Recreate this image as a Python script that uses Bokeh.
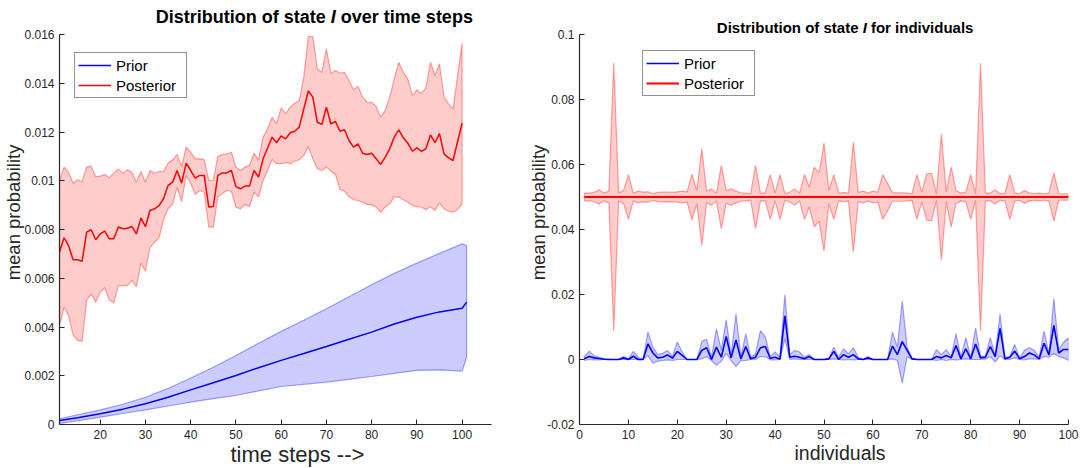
from bokeh.plotting import figure
from bokeh.layouts import row
from bokeh.models import (Range1d, FixedTicker, CustomJSTickFormatter, Label,
                          Legend, LegendItem, Title)
from bokeh.embed import file_html
from bokeh.resources import INLINE

# ---------------- data: left panel (time steps) ----------------
post_t_x = list(range(11, 101))
post_t_mean = [
    0.00707, 0.00766, 0.00734, 0.00676, 0.00676, 0.00670, 0.00789, 0.00799, 0.00758, 0.00782,
    0.00793, 0.00762, 0.00762, 0.00810, 0.00803, 0.00805, 0.00812, 0.00782, 0.00847, 0.00812,
    0.00878, 0.00885, 0.00898, 0.00926, 0.00981, 0.00994, 0.01042, 0.00990, 0.01072, 0.01042,
    0.01011, 0.01022, 0.01022, 0.00892, 0.00894, 0.01022, 0.01032, 0.01032, 0.01042, 0.00976,
    0.00967, 0.00978, 0.00978, 0.01042, 0.01015, 0.01090, 0.01134, 0.01179, 0.01156, 0.01184,
    0.01172, 0.01197, 0.01203, 0.01220, 0.01295, 0.01368, 0.01343, 0.01240, 0.01231, 0.01302,
    0.01233, 0.01243, 0.01203, 0.01209, 0.01165, 0.01138, 0.01151, 0.01113, 0.01108, 0.01113,
    0.01090, 0.01067, 0.01097, 0.01131, 0.01179, 0.01209, 0.01176, 0.01154, 0.01121, 0.01135,
    0.01121, 0.01131, 0.01188, 0.01156, 0.01193, 0.01110, 0.01094, 0.01083, 0.01160, 0.01236]
post_t_upper = [
    0.01001, 0.01056, 0.01035, 0.00990, 0.01004, 0.00997, 0.01056, 0.01060, 0.01017, 0.01019,
    0.01026, 0.01012, 0.01031, 0.01049, 0.01031, 0.01045, 0.01035, 0.00994, 0.01038, 0.00994,
    0.01042, 0.01031, 0.01038, 0.01038, 0.01072, 0.01086, 0.01108, 0.01058, 0.01138, 0.01117,
    0.01090, 0.01090, 0.01087, 0.01001, 0.01001, 0.01100, 0.01108, 0.01110, 0.01117, 0.01056,
    0.01042, 0.01056, 0.01063, 0.01113, 0.01086, 0.01179, 0.01213, 0.01261, 0.01233, 0.01299,
    0.01275, 0.01302, 0.01318, 0.01329, 0.01425, 0.01592, 0.01592, 0.01459, 0.01445, 0.01541,
    0.01439, 0.01452, 0.01441, 0.01445, 0.01411, 0.01373, 0.01387, 0.01343, 0.01322, 0.01322,
    0.01305, 0.01261, 0.01288, 0.01343, 0.01418, 0.01486, 0.01445, 0.01418, 0.01350, 0.01373,
    0.01357, 0.01381, 0.01486, 0.01432, 0.01480, 0.01343, 0.01316, 0.01295, 0.01430, 0.01565]
post_t_lower = [
    0.00406, 0.00481, 0.00447, 0.00368, 0.00345, 0.00342, 0.00509, 0.00536, 0.00502, 0.00543,
    0.00561, 0.00511, 0.00498, 0.00570, 0.00570, 0.00570, 0.00591, 0.00566, 0.00662, 0.00629,
    0.00727, 0.00748, 0.00766, 0.00840, 0.00885, 0.00905, 0.00974, 0.00915, 0.01022, 0.00990,
    0.00944, 0.00960, 0.00953, 0.00810, 0.00810, 0.00933, 0.00949, 0.00960, 0.00957, 0.00892,
    0.00885, 0.00903, 0.00894, 0.00953, 0.00933, 0.01001, 0.01042, 0.01087, 0.01070, 0.01070,
    0.01074, 0.01070, 0.01080, 0.01086, 0.01104, 0.01140, 0.01090, 0.01049, 0.01042, 0.01056,
    0.01040, 0.01026, 0.00964, 0.00957, 0.00933, 0.00922, 0.00919, 0.00912, 0.00903, 0.00901,
    0.00892, 0.00871, 0.00892, 0.00905, 0.00935, 0.00933, 0.00922, 0.00912, 0.00898, 0.00894,
    0.00892, 0.00881, 0.00894, 0.00878, 0.00908, 0.00885, 0.00875, 0.00871, 0.00881, 0.00905]

prior_t_x = [11, 15, 20, 25, 30, 35, 40, 45, 50, 55, 60, 65, 70, 75, 80, 85, 90, 95, 100, 101]
prior_t_mean = [0.00016, 0.00028, 0.00044, 0.00063, 0.00085, 0.00112, 0.00142, 0.00171, 0.00201, 0.00233,
                0.00263, 0.00291, 0.00320, 0.00350, 0.00379, 0.00412, 0.00440, 0.00462, 0.00477, 0.00502]
prior_t_upper = [0.00023, 0.00040, 0.00060, 0.00083, 0.00112, 0.00148, 0.00191, 0.00235, 0.00283, 0.00333,
                 0.00382, 0.00428, 0.00475, 0.00524, 0.00573, 0.00620, 0.00662, 0.00702, 0.00741, 0.00734]
prior_t_lower = [0.00005, 0.00015, 0.00030, 0.00045, 0.00060, 0.00076, 0.00092, 0.00106, 0.00119, 0.00138,
                 0.00156, 0.00165, 0.00174, 0.00185, 0.00197, 0.00210, 0.00222, 0.00224, 0.00219, 0.00276]

# ---------------- data: right panel (individuals) ----------------
ind_x = list(range(1, 101))
post_i_mean = [0.05] * 100
post_i_std = [
    0.0012, 0.0012, 0.0014, 0.0022, 0.0012, 0.0018, 0.0412, 0.0012, 0.0020, 0.0069,
    0.0012, 0.0018, 0.0015, 0.0016, 0.0010, 0.0014, 0.0015, 0.0015, 0.0014, 0.0016,
    0.0018, 0.0016, 0.0070, 0.0020, 0.0148, 0.0018, 0.0025, 0.0012, 0.0097, 0.0020,
    0.0025, 0.0018, 0.0013, 0.0012, 0.0010, 0.0097, 0.0012, 0.0012, 0.0069, 0.0012,
    0.0069, 0.0010, 0.0015, 0.0025, 0.0012, 0.0069, 0.0030, 0.0092, 0.0074, 0.0166,
    0.0020, 0.0069, 0.0012, 0.0014, 0.0012, 0.0169, 0.0014, 0.0018, 0.0012, 0.0018,
    0.0015, 0.0069, 0.0042, 0.0013, 0.0013, 0.0013, 0.0012, 0.0010, 0.0069, 0.0015,
    0.0071, 0.0073, 0.0010, 0.0194, 0.0015, 0.0092, 0.0020, 0.0012, 0.0015, 0.0069,
    0.0010, 0.0412, 0.0012, 0.0012, 0.0022, 0.0010, 0.0012, 0.0069, 0.0012, 0.0010,
    0.0020, 0.0012, 0.0010, 0.0012, 0.0010, 0.0012, 0.0074, 0.0010, 0.0010, 0.0010]
prior_i_mean = [
    0.0002, 0.0009, 0.0005, 0.0003, 0.0001, 0.0000, 0.0000, 0.0000, 0.0005, 0.0000,
    0.0010, 0.0000, 0.0000, 0.0048, 0.0020, 0.0005, 0.0007, 0.0014, 0.0004, 0.0025,
    0.0013, 0.0000, 0.0000, 0.0000, 0.0028, 0.0036, 0.0000, 0.0038, 0.0007, 0.0071,
    0.0005, 0.0060, 0.0002, 0.0040, 0.0002, 0.0007, 0.0036, 0.0040, 0.0004, 0.0007,
    0.0001, 0.0134, 0.0007, 0.0010, 0.0007, 0.0002, 0.0009, 0.0000, 0.0000, 0.0000,
    0.0002, 0.0025, 0.0000, 0.0015, 0.0007, 0.0015, 0.0002, 0.0000, 0.0005, 0.0000,
    0.0000, 0.0000, 0.0000, 0.0041, 0.0015, 0.0055, 0.0028, 0.0002, 0.0000, 0.0000,
    0.0000, 0.0000, 0.0009, 0.0005, 0.0012, 0.0005, 0.0043, 0.0002, 0.0033, 0.0002,
    0.0048, 0.0005, 0.0007, 0.0040, 0.0009, 0.0096, 0.0002, 0.0007, 0.0026, 0.0002,
    0.0009, 0.0020, 0.0014, 0.0002, 0.0050, 0.0014, 0.0105, 0.0020, 0.0031, 0.0031]
prior_i_upper = [
    0.0009, 0.0026, 0.0011, 0.0007, 0.0003, 0.0001, 0.0000, 0.0000, 0.0009, 0.0002,
    0.0025, 0.0007, 0.0000, 0.0085, 0.0038, 0.0015, 0.0019, 0.0028, 0.0009, 0.0054,
    0.0023, 0.0000, 0.0000, 0.0000, 0.0056, 0.0062, 0.0007, 0.0094, 0.0028, 0.0122,
    0.0012, 0.0140, 0.0009, 0.0079, 0.0007, 0.0017, 0.0089, 0.0069, 0.0009, 0.0023,
    0.0007, 0.0199, 0.0015, 0.0028, 0.0023, 0.0007, 0.0015, 0.0000, 0.0000, 0.0000,
    0.0004, 0.0038, 0.0007, 0.0033, 0.0017, 0.0036, 0.0007, 0.0000, 0.0009, 0.0000,
    0.0000, 0.0000, 0.0000, 0.0084, 0.0038, 0.0180, 0.0038, 0.0005, 0.0000, 0.0000,
    0.0000, 0.0000, 0.0030, 0.0015, 0.0030, 0.0009, 0.0079, 0.0007, 0.0067, 0.0007,
    0.0097, 0.0009, 0.0011, 0.0067, 0.0012, 0.0140, 0.0007, 0.0009, 0.0046, 0.0005,
    0.0028, 0.0036, 0.0028, 0.0007, 0.0087, 0.0017, 0.0187, 0.0030, 0.0053, 0.0067]
prior_i_lower = [
    -0.0003, 0.0000, -0.0001, -0.0001, 0.0000, 0.0000, 0.0000, 0.0000, 0.0000, 0.0000,
    0.0000, 0.0000, 0.0000, 0.0012, -0.0011, -0.0005, -0.0003, -0.0001, -0.0003, 0.0000,
    0.0000, 0.0000, 0.0000, 0.0000, 0.0002, 0.0009, -0.0003, -0.0018, -0.0005, 0.0019,
    -0.0003, -0.0022, -0.0003, -0.0003, 0.0000, 0.0000, 0.0009, 0.0009, -0.0001, -0.0001,
    0.0000, 0.0064, 0.0000, 0.0002, 0.0000, 0.0000, 0.0000, 0.0000, 0.0000, 0.0000,
    0.0000, 0.0002, 0.0000, -0.0001, 0.0000, -0.0001, 0.0000, 0.0000, 0.0000, 0.0000,
    0.0000, 0.0000, 0.0000, 0.0002, -0.0003, -0.0073, 0.0009, 0.0000, 0.0000, 0.0000,
    0.0000, 0.0000, -0.0003, 0.0000, -0.0003, 0.0000, -0.0001, 0.0000, 0.0002, 0.0000,
    0.0000, 0.0000, 0.0001, 0.0009, -0.0008, 0.0012, 0.0000, 0.0000, 0.0005, 0.0000,
    -0.0001, 0.0002, 0.0002, 0.0000, 0.0009, 0.0007, 0.0019, 0.0009, 0.0005, -0.0003]

left_xticks = [20, 30, 40, 50, 60, 70, 80, 90, 100]
left_yticks = [0, 0.002, 0.004, 0.006, 0.008, 0.01, 0.012, 0.014, 0.016]
right_xticks = [0, 10, 20, 30, 40, 50, 60, 70, 80, 90, 100]
right_yticks = [-0.02, 0, 0.02, 0.04, 0.06, 0.08, 0.1]

# ---------------- style ----------------
FONT = "Liberation Sans"
AX = "#262626"
RED = "#FF0000"
BLUE = "#0000FF"
H = 468          # canvas height
FRAME_BOTTOM = 424
PX_TOP_TICK = 34  # canvas y of the topmost y tick


def style(p, xticks, yticks, ybounds, xlabel, xsize, xoffset, ystand):
    for ax in (p.xaxis[0], p.yaxis[0]):
        ax.axis_line_color = AX
        ax.axis_line_width = 1.2
        ax.major_tick_line_color = AX
        ax.major_tick_line_width = 1
        ax.major_tick_in = 5
        ax.major_tick_out = 0
        ax.minor_tick_line_color = None
        ax.major_label_text_font = FONT
        ax.major_label_text_font_size = "12px"
        ax.major_label_text_color = AX
        ax.major_label_standoff = 5
        ax.axis_label_text_font = FONT
        ax.axis_label_text_font_style = "normal"
        ax.axis_label_text_color = AX
        ax.formatter = CustomJSTickFormatter(code="return String(Number(tick.toFixed(4)));")
    p.xaxis[0].ticker = FixedTicker(ticks=xticks)
    p.yaxis[0].ticker = FixedTicker(ticks=yticks)
    p.yaxis[0].bounds = ybounds
    p.yaxis[0].axis_label = "mean probability"
    p.yaxis[0].axis_label_text_font_size = "18.5px"
    p.yaxis[0].axis_label_standoff = ystand
    # x label as a title below the axis, so it can sit off-centre like the original
    p.add_layout(Title(text=xlabel, align="left", offset=xoffset, vertical_align="top",
                       standoff=0, text_font=FONT, text_font_size=xsize,
                       text_font_style="normal", text_color=AX), "below")
    p.xgrid.visible = False
    p.ygrid.visible = False
    p.outline_line_color = None
    p.background_fill_color = "white"
    p.border_fill_color = "white"


def band(p, x, lo, hi, color):
    xs = list(x) + list(x)[::-1]
    ys = list(hi) + list(lo)[::-1]
    p.patch(xs, ys, fill_color=color, fill_alpha=0.2, line_color=color,
            line_alpha=0.35, line_width=1.2)


def text(p, x, y, s, size, style="bold", align="center"):
    p.add_layout(Label(x=x, y=y, text=s, text_font=FONT, text_font_size=size,
                       text_font_style=style, text_align=align, text_baseline="middle",
                       text_color="black"))


def legend(p, r_prior, r_post, loc):
    lg = Legend(items=[LegendItem(label="Prior", renderers=[r_prior]),
                       LegendItem(label="Posterior", renderers=[r_post])],
                location=loc, label_text_font=FONT, label_text_font_size="15px",
                label_text_color="black", border_line_color=AX, border_line_width=1.3,
                background_fill_color="white", background_fill_alpha=1.0,
                padding=3, spacing=2, margin=0, glyph_width=33, glyph_height=18,
                label_height=18, label_width=67, label_standoff=5)
    p.add_layout(lg)


# ---------------- left figure ----------------
L_X0, L_X1 = 11, 106.5
L_Y0, L_Y1 = 0.0, 0.016
L_YTOP = L_Y0 + (L_Y1 - L_Y0) * FRAME_BOTTOM / (FRAME_BOTTOM - PX_TOP_TICK)
W1, LB1, RB1 = 525, 58, 34
p1 = figure(width=W1, height=H, x_range=Range1d(L_X0, L_X1), y_range=Range1d(L_Y0, L_YTOP),
            output_backend="svg", toolbar_location=None,
            min_border_left=LB1, min_border_right=RB1, min_border_top=0,
            min_border_bottom=H - FRAME_BOTTOM)
style(p1, left_xticks, left_yticks, (L_Y0, L_Y1), "time steps -->", "22px", 171, -3)
band(p1, post_t_x, post_t_lower, post_t_upper, RED)
band(p1, prior_t_x, prior_t_lower, prior_t_upper, BLUE)
rp1 = p1.line(post_t_x, post_t_mean, line_color=RED, line_width=1.5)
bp1 = p1.line(prior_t_x, prior_t_mean, line_color=BLUE, line_width=1.5)
legend(p1, bp1, rp1, (15, 326))


def lx(px):
    return L_X0 + (px - LB1) * (L_X1 - L_X0) / (W1 - LB1 - RB1)


def ly(py):
    return L_Y0 + (FRAME_BOTTOM - py) * (L_Y1 - L_Y0) / (FRAME_BOTTOM - PX_TOP_TICK)


# title with italic state name (Arial-metric em widths)
fs1 = 18.0
sp1 = 0.278 * fs1
a1 = 313.5 - 17.615 * fs1 / 2 + 9.445 * fs1
text(p1, lx(a1), ly(16.7), "Distribution of state", "18px", "bold", "right")
text(p1, lx(a1 + sp1), ly(16.7), "I", "18px", "bold italic", "left")
text(p1, lx(a1 + 3 * sp1), ly(16.7), "over time steps", "18px", "bold", "left")

# ---------------- right figure ----------------
R_X0, R_X1 = 0, 100
R_Y0, R_Y1 = -0.02, 0.1
R_YTOP = R_Y0 + (R_Y1 - R_Y0) * FRAME_BOTTOM / (FRAME_BOTTOM - PX_TOP_TICK)
W2, LB2, RB2 = 1081 - W1, 50, 13
p2 = figure(width=W2, height=H, x_range=Range1d(R_X0, R_X1), y_range=Range1d(R_Y0, R_YTOP),
            output_backend="svg", toolbar_location=None,
            min_border_left=LB2, min_border_right=RB2, min_border_top=0,
            min_border_bottom=H - FRAME_BOTTOM)
style(p2, right_xticks, right_yticks, (R_Y0, R_Y1), "individuals", "19.5px", 215, -5)
post_hi = [m + s for m, s in zip(post_i_mean, post_i_std)]
post_lo = [m - s for m, s in zip(post_i_mean, post_i_std)]
band(p2, ind_x, post_lo, post_hi, RED)
band(p2, ind_x, prior_i_lower, prior_i_upper, BLUE)
rp2 = p2.line(ind_x, post_i_mean, line_color=RED, line_width=2)
bp2 = p2.line(ind_x, prior_i_mean, line_color=BLUE, line_width=1.6)
legend(p2, bp2, rp2, (63, 328))


def rx(px):
    return R_X0 + (px - W1 - LB2) * (R_X1 - R_X0) / (W2 - LB2 - RB2)


def ry(py):
    return R_Y0 + (FRAME_BOTTOM - py) * (R_Y1 - R_Y0) / (FRAME_BOTTOM - PX_TOP_TICK)


fs2 = 15.0
sp2 = 0.278 * fs2
a2 = 843 - 17.114 * fs2 / 2 + 9.445 * fs2
text(p2, rx(a2), ry(26.7), "Distribution of state", "15px", "bold", "right")
text(p2, rx(a2 + sp2), ry(26.7), "I", "15px", "bold italic", "left")
text(p2, rx(a2 + 3 * sp2), ry(26.7), "for individuals", "15px", "bold", "left")

layout = row(p1, p2)
open("out.html", "w").write(file_html(layout, INLINE))
